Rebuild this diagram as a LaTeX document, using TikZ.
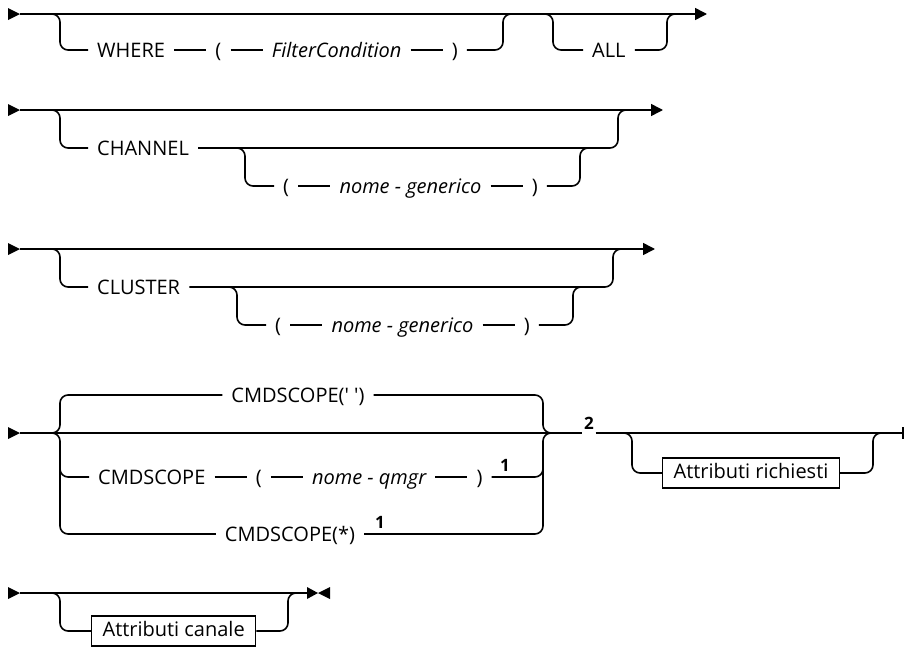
\documentclass[tikz,border=0pt]{standalone}
\usepackage{fontspec}
\setmainfont{Open Sans}
\usetikzlibrary{positioning,arrows.meta}
\begin{document}
\begin{tikzpicture}[x=1pt,y=-1pt,
  rail/.style={line width=1.6pt, rounded corners=8pt},
  tx/.style={inner xsep=9pt, inner ysep=0pt, text height=15pt, text depth=1pt, font=\fontsize{20}{22}\selectfont, anchor=west},
  it/.style={tx, font=\fontsize{20}{22}\selectfont\itshape},
  bx/.style={draw, line width=1.2pt, inner xsep=11pt, inner ysep=0pt, text height=15pt, text depth=4pt, minimum height=30pt, font=\fontsize{20}{22}\selectfont, anchor=west},
  notenum/.style={font=\fontsize{17}{19}\selectfont\bfseries, inner sep=1pt},
  node distance=32pt,
  endarrow/.style={-{Triangle[length=12pt,width=12pt]}}
]
\useasboundingbox (0,0) rectangle (906,648);

% ---------- Row 1 ----------
\coordinate (a1) at (20,14);
\coordinate (z1) at (707,14);
\fill (8,8) -- (a1) -- (8,20) -- cycle;
\draw[rail, endarrow] (a1) -- (z1);
\node[tx] (where) at (88,50) {WHERE};
\node[tx, right=of where] (lp1) {(};
\node[it, right=of lp1] (fc) {FilterCondition};
\node[tx, right=of fc] (rp1) {)};
\draw[rail] (44,14) -- (60,14) -- (60,50) -- (where.west);
\draw[rail] (where.east) -- (lp1.west);
\draw[rail] (lp1.east) -- (fc.west);
\draw[rail] (fc.east) -- (rp1.west);
\draw[rail] (rp1.east) -- (503,50) -- (503,14) -- (517,14);
\node[tx] (all) at (583,50) {ALL};
\draw[rail] (539,14) -- (553,14) -- (553,50) -- (all.west);
\draw[rail] (all.east) -- (667,50) -- (667,14) -- (681,14);

% ---------- Row 2 ----------
\coordinate (a2) at (20,110);
\coordinate (z2) at (663,110);
\fill (8,104) -- (a2) -- (8,116) -- cycle;
\draw[rail, endarrow] (a2) -- (z2);
\node[tx] (chan) at (88,148) {CHANNEL};
\draw[rail] (44,110) -- (60,110) -- (60,148) -- (chan.west);
\draw[rail] (chan.east) -- (618,148) -- (618,110) -- (632,110);
\node[tx] (lp2) at (274,186) {(};
\node[it, right=of lp2] (ng2) {nome - generico};
\node[tx, right=of ng2] (rp2) {)};
\draw[rail] (231,148) -- (245,148) -- (245,186) -- (lp2.west);
\draw[rail] (lp2.east) -- (ng2.west);
\draw[rail] (ng2.east) -- (rp2.west);
\draw[rail] (rp2.east) -- (580,186) -- (580,148) -- (594,148);

% ---------- Row 3 ----------
\coordinate (a3) at (20,249);
\coordinate (z3) at (655,249);
\fill (8,243) -- (a3) -- (8,255) -- cycle;
\draw[rail, endarrow] (a3) -- (z3);
\node[tx] (clus) at (88,287) {CLUSTER};
\draw[rail] (44,249) -- (60,249) -- (60,287) -- (clus.west);
\draw[rail] (clus.east) -- (613,287) -- (613,249) -- (627,249);
\node[tx] (lp3) at (266,325) {(};
\node[it, right=of lp3] (ng3) {nome - generico};
\node[tx, right=of ng3] (rp3) {)};
\draw[rail] (223,287) -- (237,287) -- (237,325) -- (lp3.west);
\draw[rail] (lp3.east) -- (ng3.west);
\draw[rail] (ng3.east) -- (rp3.west);
\draw[rail] (rp3.east) -- (573,325) -- (573,287) -- (587,287);

% ---------- Row 4 ----------
\coordinate (a4) at (20,433);
\coordinate (z4) at (903,433);
\fill (8,427) -- (a4) -- (8,439) -- cycle;
\node[inner sep=0pt, minimum width=13pt, minimum height=1pt,
      label={[notenum, inner sep=3pt]above:2}] (n2) at (589,433) {};
\draw[rail] (a4) -- (n2.west);
\draw[rail] (n2.east) -- (z4);
\draw[line width=1.6pt] (903,427) -- (903,439);
% top alternative
\node[tx, anchor=center] (csp) at (298,395) {CMDSCOPE(\textquotesingle\ \textquotesingle)};
\draw[rail] (44,433) -- (60,433) -- (60,395) -- (csp.west);
\draw[rail] (csp.east) -- (543,395) -- (543,433) -- (557,433);
% qmgr alternative
\node[tx] (cq) at (89,477) {CMDSCOPE};
\node[tx, right=of cq] (lp4) {(};
\node[it, right=of lp4] (nq) {nome - qmgr};
\node[tx, right=of nq] (rp4) {)};
\node[notenum, anchor=south] (f1a) at (505,473) {1};
\draw[rail] (60,463) -- (60,477) -- (cq.west);
\draw[rail] (cq.east) -- (lp4.west);
\draw[rail] (lp4.east) -- (nq.west);
\draw[rail] (nq.east) -- (rp4.west);
\draw[rail] (rp4.east) -- (543,477) -- (543,463);
% star alternative
\node[tx, anchor=center] (cst) at (290,534) {CMDSCOPE(*)};
\node[notenum, anchor=south] (f1b) at (380,530) {1};
\draw[rail] (44,433) -- (60,433) -- (60,534) -- (cst.west);
\draw[rail] (cst.east) -- (543,534) -- (543,433) -- (557,433);
% Attributi richiesti
\node[bx] (ar) at (662,473) {Attributi richiesti};
\draw[rail] (618,433) -- (632,433) -- (632,473) -- (ar.west);
\draw[rail] (ar.east) -- (873,473) -- (873,433) -- (887,433);

% ---------- Row 5 ----------
\coordinate (a5) at (20,593);
\coordinate (z5) at (307,593);
\fill (8,587) -- (a5) -- (8,599) -- cycle;
\draw[rail] (a5) -- (z5);
\fill (307,587) -- (318,593) -- (307,599) -- cycle;
\fill (330,587) -- (318,593) -- (330,599) -- cycle;
\node[bx] (ac) at (91,631) {Attributi canale};
\draw[rail] (44,593) -- (60,593) -- (60,631) -- (ac.west);
\draw[rail] (ac.east) -- (288,631) -- (288,593) -- (302,593);
\end{tikzpicture}
\end{document}
